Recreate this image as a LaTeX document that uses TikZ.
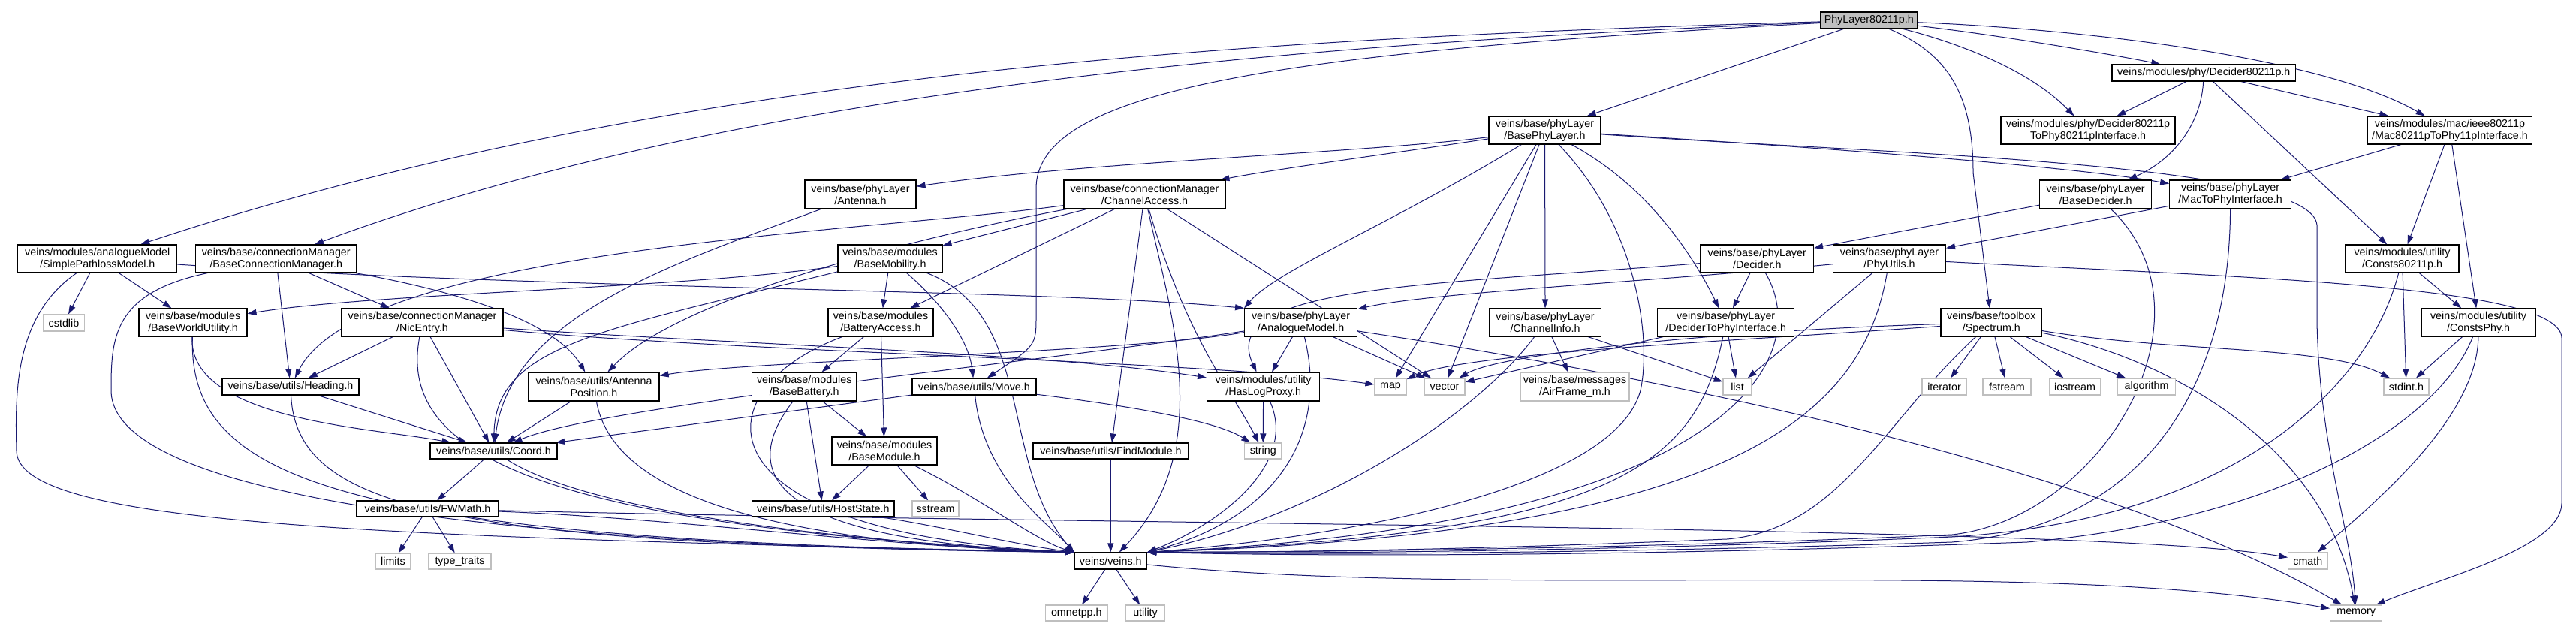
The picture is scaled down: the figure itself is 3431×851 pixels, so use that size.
\documentclass[tikz,border=0pt]{standalone}
\usepackage{fontspec}
\setmainfont{Liberation Sans}
\usetikzlibrary{arrows.meta}
\definecolor{edgeblue}{HTML}{191970}
\definecolor{greyline}{HTML}{BFBFBF}
\definecolor{rootfill}{HTML}{BFBFBF}
\newcommand\dxfs{\fontsize{14.3}{16}\selectfont}
\newcommand\dxbox[7]{\node[#6, minimum width={#4pt-#2pt}, minimum height={#5pt-#3pt}] (#1) at ({(#2+#4)/2},{(#3+#5)/2}) {#7};}
\pgfdeclarelayer{bgfill}
\pgfdeclarelayer{edges}
\pgfsetlayers{bgfill,edges,main}
\tikzset{
  basebox/.style={rectangle, inner sep=0pt, font=\dxfs, align=center, text=black},
  proj/.style={basebox, draw=black, line width=1.1pt, fill=white},
  sys/.style={basebox, draw=greyline, line width=1.1pt, fill=white},
  rootbox/.style={basebox, draw=black, line width=1.1pt, fill=rootfill},
  e/.style={draw=edgeblue, line width=1pt, -{Triangle[length=12pt,width=8pt]}}
}
\begin{document}
\begin{tikzpicture}[x=1pt,y=-1pt]
\begin{pgfonlayer}{bgfill}
\fill[white] (0,0) rectangle (3431,851);
\end{pgfonlayer}
\useasboundingbox (0,0) rectangle (3431,851);
% nodes
\dxbox{PL}{2425}{16}{2553.5}{38}{rootbox}{PhyLayer80211p.h}
\dxbox{D80}{2813}{86}{3057.5}{108}{proj}{veins/modules/phy/Decider80211p.h}
\dxbox{BPL}{1983}{155}{2132}{192}{proj}{veins/base/phyLayer\\/BasePhyLayer.h}
\dxbox{D2P}{2665}{155}{2897}{192}{proj}{veins/modules/phy/Decider80211p\\ToPhy80211pInterface.h}
\dxbox{MAC}{3153.5}{155}{3372.4}{192}{proj}{veins/modules/mac/ieee80211p\\/Mac80211pToPhy11pInterface.h}
\dxbox{ANT}{1072}{240}{1220}{278}{proj}{veins/base/phyLayer\\/Antenna.h}
\dxbox{CA}{1417}{240}{1632}{278}{proj}{veins/base/connectionManager\\/ChannelAccess.h}
\dxbox{BD}{2716.5}{240}{2865.6}{278}{proj}{veins/base/phyLayer\\/BaseDecider.h}
\dxbox{M2P}{2889.7}{240}{3051.5}{278}{proj}{veins/base/phyLayer\\/MacToPhyInterface.h}
\dxbox{SPM}{23.6}{326}{235.9}{363}{proj}{veins/modules/analogueModel\\/SimplePathlossModel.h}
\dxbox{BCM}{260.5}{326}{475}{363}{proj}{veins/base/connectionManager\\/BaseConnectionManager.h}
\dxbox{BMOB}{1116}{326}{1255}{363}{proj}{veins/base/modules\\/BaseMobility.h}
\dxbox{DEC}{2265}{326}{2415.5}{363}{proj}{veins/base/phyLayer\\/Decider.h}
\dxbox{PU}{2441.5}{326}{2591.5}{363}{proj}{veins/base/phyLayer\\/PhyUtils.h}
\dxbox{C80}{3124}{326}{3275}{363}{proj}{veins/modules/utility\\/Consts80211p.h}
\dxbox{CSTD}{57.6}{419}{112.4}{441}{sys}{cstdlib}
\dxbox{BWU}{185}{411}{329}{448}{proj}{veins/base/modules\\/BaseWorldUtility.h}
\dxbox{NIC}{455}{411}{670}{448}{proj}{veins/base/connectionManager\\/NicEntry.h}
\dxbox{BA}{1103}{411}{1243}{448}{proj}{veins/base/modules\\/BatteryAccess.h}
\dxbox{AM}{1657.6}{411}{1807.6}{448}{proj}{veins/base/phyLayer\\/AnalogueModel.h}
\dxbox{CI}{1983.5}{411}{2132.6}{448}{proj}{veins/base/phyLayer\\/ChannelInfo.h}
\dxbox{DTP}{2207.6}{411}{2389.7}{448}{proj}{veins/base/phyLayer\\/DeciderToPhyInterface.h}
\dxbox{SPEC}{2585}{411}{2719.6}{448}{proj}{veins/base/toolbox\\/Spectrum.h}
\dxbox{CPHY}{3225}{411}{3377}{448}{proj}{veins/modules/utility\\/ConstsPhy.h}
\dxbox{HEAD}{296}{504}{478}{526}{proj}{veins/base/utils/Heading.h}
\dxbox{APOS}{704}{496}{878}{534}{proj}{veins/base/utils/Antenna\\Position.h}
\dxbox{BBAT}{1001.5}{496}{1141}{534}{proj}{veins/base/modules\\/BaseBattery.h}
\dxbox{MOVE}{1215}{504}{1380}{526}{proj}{veins/base/utils/Move.h}
\dxbox{HLP}{1607.6}{496}{1757.6}{534}{proj}{veins/modules/utility\\/HasLogProxy.h}
\dxbox{MAP}{1831}{504}{1873}{526}{sys}{map}
\dxbox{VEC}{1897}{504}{1951}{526}{sys}{vector}
\dxbox{AIR}{2025}{496}{2170}{534}{sys}{veins/base/messages\\/AirFrame\_m.h}
\dxbox{LIST}{2295}{504}{2333}{526}{sys}{list}
\dxbox{ITER}{2560}{504}{2619}{526}{sys}{iterator}
\dxbox{FSTR}{2641}{504}{2705}{526}{sys}{fstream}
\dxbox{IOS}{2729.5}{504}{2797.5}{526}{sys}{iostream}
\dxbox{ALG}{2820.6}{504}{2897.4}{526}{sys}{algorithm}
\dxbox{STDINT}{3175}{504}{3235}{526}{sys}{stdint.h}
\dxbox{COORD}{573}{590}{742}{611}{proj}{veins/base/utils/Coord.h}
\dxbox{BMOD}{1108}{582}{1248}{619}{proj}{veins/base/modules\\/BaseModule.h}
\dxbox{FIND}{1376}{590}{1583}{611}{proj}{veins/base/utils/FindModule.h}
\dxbox{STR}{1657.5}{590}{1707}{611}{sys}{string}
\dxbox{FWM}{475}{667}{664}{688}{proj}{veins/base/utils/FWMath.h}
\dxbox{HOST}{1001.5}{667}{1191}{688}{proj}{veins/base/utils/HostState.h}
\dxbox{SSTR}{1215}{667}{1277}{688}{sys}{sstream}
\dxbox{LIM}{500}{737}{547}{758}{sys}{limits}
\dxbox{TT}{571}{737}{654}{758}{sys}{type\_traits}
\dxbox{VEINS}{1431}{736}{1527.5}{758}{proj}{veins/veins.h}
\dxbox{CMATH}{3047.6}{736}{3100}{758}{sys}{cmath}
\dxbox{OMN}{1392.6}{806}{1475}{827}{sys}{omnetpp.h}
\dxbox{UTIL}{1499.5}{806}{1551.6}{827}{sys}{utility}
\dxbox{MEM}{3103.6}{806}{3172.7}{827}{sys}{memory}
% edges
\begin{pgfonlayer}{edges}
% root
\draw[e] (PL) .. controls (1700,50) and (900,90) .. (SPM);
\draw[e] (PL) .. controls (1800,55) and (1000,110) .. (BCM);
\draw[e] (PL) .. controls (1700,70) and (1382,120) .. (1380,250) -- (1380,420) .. controls (1380,460) .. (MOVE);
\draw[e] (PL) -- (BPL);
\draw[e] (PL) .. controls (2590,70) and (2628,120) .. (2628,230) -- (SPEC);
\draw[e] (PL) .. controls (2600,55) and (2700,90) .. (D2P);
\draw[e] (PL) .. controls (2650,45) and (2800,70) .. (D80);
\draw[e] (PL) .. controls (2800,40) and (3100,80) .. (MAC);
% Decider80211p
\draw[e] (D80) -- (D2P);
\draw[e] (D80) .. controls (2932,160) and (2900,210) .. (BD);
\draw[e] (D80) -- (C80);
\draw[e] (D80) -- (MAC);
% Mac80211pToPhy11pInterface
\draw[e] (MAC) -- (M2P);
\draw[e] (MAC) -- (C80);
\draw[e] (MAC) -- (CPHY);
% BasePhyLayer
\draw[e] (BPL) .. controls (1800,205) and (1450,215) .. (ANT);
\draw[e] (BPL) .. controls (1850,205) and (1700,225) .. (CA);
\draw[e] (BPL) .. controls (2400,195) and (2750,220) .. (M2P);
\draw[e] (BPL) .. controls (2500,205) and (3080,215) .. (3086,300) -- (3086,430) .. controls (3090,600) and (3130,700) .. (MEM);
\draw[e] (BPL) -- (MAP);
\draw[e] (BPL) -- (VEC);
\draw[e] (BPL) -- (CI);
\draw[e] (BPL) .. controls (2180,300) and (2200,450) .. (2185,520) .. controls (2150,650) and (1800,715) .. (VEINS.north east);
\draw[e] (BPL) .. controls (2200,250) and (2260,350) .. (DTP);
\draw[e] (BPL) .. controls (1850,300) and (1700,360) .. (AM.north west);
% ChannelAccess
\draw[e] (CA) -- (BMOB);
\draw[e] (CA) -- (BA);
\draw[e] (CA) .. controls (1150,310) and (480,330) .. (HEAD);
\draw[e] (CA) .. controls (1200,320) and (900,400) .. (APOS);
\draw[e] (CA) -- (FIND);
\draw[e] (CA) .. controls (1560,420) and (1620,600) .. (VEINS.45);
\draw[e] (CA) -- (VEC);
\draw[e] (CA) .. controls (1580,450) and (1640,520) .. (STR);
% BaseMobility
\draw[e] (BMOB) .. controls (900,385) and (500,390) .. (BWU);
\draw[e] (BMOB) .. controls (800,440) and (660,460) .. (COORD);
\draw[e] (BMOB) -- (BA);
\draw[e] (BMOB) .. controls (1250,400) and (1290,450) .. (MOVE);
\draw[e] (BMOB) .. controls (1380,420) and (1330,620) .. (VEINS.north west);
% Antenna
\draw[e] (ANT) .. controls (900,350) and (680,420) .. (COORD);
% BatteryAccess
\draw[e] (BA) -- (BBAT);
\draw[e] (BA) -- (BMOD);
\draw[e] (BA) .. controls (930,520) and (920,710) .. (VEINS.north west);
% BaseBattery
\draw[e] (BBAT) -- (BMOD);
\draw[e] (BBAT) -- (HOST);
\draw[e] (BBAT) .. controls (990,620) and (1000,720) .. (VEINS.north west);
% BaseModule
\draw[e] (BMOD) -- (HOST);
\draw[e] (BMOD) -- (SSTR);
\draw[e] (BMOD) .. controls (1300,660) and (1380,720) .. (VEINS.north west);
% HostState, FindModule
\draw[e] (HOST) .. controls (1250,700) and (1350,725) .. (VEINS.north west);
\draw[e] (FIND) -- (VEINS);
% Move
\draw[e] (MOVE) .. controls (1310,640) and (1400,700) .. (VEINS.north west);
\draw[e] (MOVE) -- (COORD);
\draw[e] (MOVE) .. controls (1500,540) and (1620,560) .. (STR);
% HasLogProxy
\draw[e] (HLP) -- (STR);
\draw[e] (HLP) .. controls (1730,620) and (1620,700) .. (VEINS.north east);
% AnalogueModel
\draw[e] (AM) -- (HLP);
\draw[e] (AM) -- (VEC);
\draw[e] (AM) .. controls (1770,580) and (1700,690) .. (VEINS.north east);
\draw[e] (AM) .. controls (2200,500) and (2800,620) .. (MEM);
\draw[e] (AM) .. controls (1500,470) and (1000,480) .. (APOS);
\draw[e] (AM) .. controls (1400,480) and (800,540) .. (COORD);
% NicEntry
\draw[e] (NIC) -- (HEAD);
\draw[e] (NIC) -- (COORD);
\draw[e] (NIC) .. controls (530,600) and (700,700) .. (VEINS.north west);
\draw[e] (NIC) .. controls (1000,470) and (1600,480) .. (MAP);
\draw[e] (NIC) .. controls (1000,460) and (1400,470) .. (HLP);
% Heading
\draw[e] (HEAD) -- (COORD);
\draw[e] (HEAD) .. controls (395,680) and (600,725) .. (VEINS.north west);
% AntennaPosition
\draw[e] (APOS) -- (COORD);
\draw[e] (APOS) .. controls (820,680) and (1100,725) .. (VEINS.north west);
% BaseWorldUtility
\draw[e] (BWU) .. controls (250,560) and (500,570) .. (COORD);
\draw[e] (BWU) .. controls (250,640) and (450,720) .. (VEINS.north west);
% BaseConnectionManager
\draw[e] (BCM) -- (HEAD);
\draw[e] (BCM) -- (NIC);
\draw[e] (BCM) .. controls (620,390) and (740,430) .. (APOS);
\draw[e] (BCM) .. controls (150,390) and (148,450) .. (148,520) .. controls (148,690) and (900,730) .. (VEINS.north west);
% SimplePathlossModel
\draw[e] (SPM) -- (CSTD);
\draw[e] (SPM) -- (BWU);
\draw[e] (SPM) .. controls (700,385) and (1400,385) .. (AM.north west);
\draw[e] (SPM) .. controls (20,420) and (20,520) .. (22,600) .. controls (22,700) and (500,715) .. (VEINS.north west);
% Coord, FWMath
\draw[e] (COORD) -- (FWM);
\draw[e] (COORD) .. controls (780,680) and (1100,720) .. (VEINS.north west);
\draw[e] (FWM) -- (LIM);
\draw[e] (FWM) -- (TT);
\draw[e] (FWM) .. controls (900,690) and (1200,730) .. (VEINS.north west);
\draw[e] (FWM) .. controls (1500,700) and (2800,700) .. (CMATH);
% veins.h
\draw[e] (VEINS) -- (OMN);
\draw[e] (VEINS) -- (UTIL);
\draw[e] (VEINS) .. controls (2000,800) and (2700,740) .. (MEM);
% ChannelInfo
\draw[e] (CI) -- (AIR);
\draw[e] (CI) -- (LIST);
\draw[e] (CI) .. controls (1960,560) and (1750,690) .. (VEINS.north east);
% DeciderToPhyInterface
\draw[e] (DTP) -- (VEC);
\draw[e] (DTP) -- (LIST);
\draw[e] (DTP) .. controls (2260,620) and (2150,710) .. (VEINS.north east);
% Decider
\draw[e] (DEC) -- (DTP);
\draw[e] (DEC) .. controls (1900,380) and (1620,380) .. (HLP);
\draw[e] (DEC) .. controls (2420,480) and (2300,700) .. (VEINS.north east);
% PhyUtils
\draw[e] (PU) .. controls (2200,375) and (1900,390) .. (AM);
\draw[e] (PU) -- (LIST);
\draw[e] (PU) .. controls (2480,560) and (2300,710) .. (VEINS.north east);
\draw[e] (PU) .. controls (3000,370) and (3410,380) .. (3412,450) -- (3412,670) .. controls (3412,730) and (3250,770) .. (MEM);
% BaseDecider
\draw[e] (BD) -- (DEC);
\draw[e] (BD) .. controls (2960,420) and (2800,690) .. (2600,712) .. controls (2200,730) and (1800,735) .. (VEINS.north east);
% MacToPhyInterface
\draw[e] (M2P) -- (PU);
\draw[e] (M2P) .. controls (2970,500) and (2870,700) .. (2600,722) .. controls (2200,735) and (1800,740) .. (VEINS.north east);
% Consts80211p
\draw[e] (C80) -- (STDINT);
\draw[e] (C80) -- (CPHY);
\draw[e] (C80) .. controls (3160,500) and (3000,690) .. (2600,715) .. controls (2200,732) and (1800,738) .. (VEINS.north east);
% ConstsPhy
\draw[e] (CPHY) -- (STDINT);
\draw[e] (CPHY) .. controls (3300,560) and (3150,680) .. (CMATH);
\draw[e] (CPHY) .. controls (3250,560) and (3050,690) .. (2700,722) .. controls (2200,740) and (1800,742) .. (VEINS.north east);
% Spectrum
\draw[e] (SPEC) -- (ITER);
\draw[e] (SPEC) -- (FSTR);
\draw[e] (SPEC) -- (IOS);
\draw[e] (SPEC) -- (ALG);
\draw[e] (SPEC) .. controls (2900,470) and (3100,460) .. (STDINT);
\draw[e] (SPEC) .. controls (2900,480) and (3100,600) .. (MEM);
\draw[e] (SPEC) .. controls (2510,560) and (2450,705) .. (2300,718) .. controls (2000,730) and (1800,735) .. (VEINS.north east);
\draw[e] (SPEC) .. controls (2300,440) and (2000,470) .. (VEC);
\draw[e] (SPEC) .. controls (2300,455) and (1950,470) .. (MAP);
\end{pgfonlayer}
\end{tikzpicture}
\end{document}
